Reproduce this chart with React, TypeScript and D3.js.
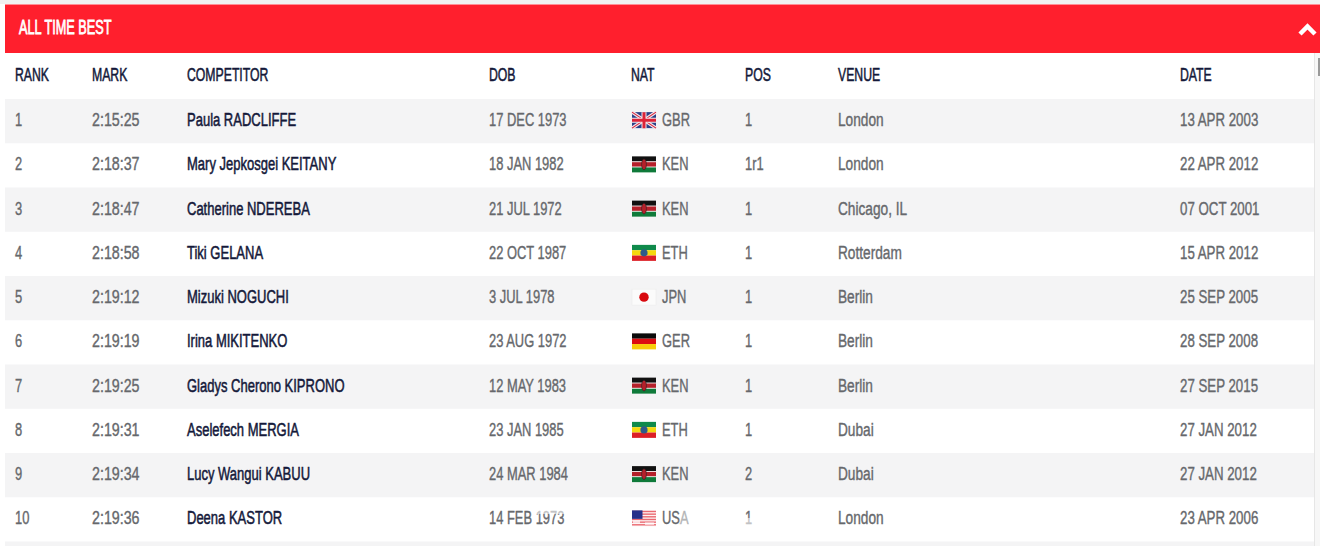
import React from 'react';
import * as d3 from 'd3';

const title = 'ALL TIME BEST';
const columns = ['RANK', 'MARK', 'COMPETITOR', 'DOB', 'NAT', 'POS', 'VENUE', 'DATE'];
const ranks = ['1', '2', '3', '4', '5', '6', '7', '8', '9', '10'];
const marks = ['2:15:25', '2:18:37', '2:18:47', '2:18:58', '2:19:12', '2:19:19', '2:19:25', '2:19:31', '2:19:34', '2:19:36'];
const competitors = [
  'Paula RADCLIFFE', 'Mary Jepkosgei KEITANY', 'Catherine NDEREBA', 'Tiki GELANA', 'Mizuki NOGUCHI',
  'Irina MIKITENKO', 'Gladys Cherono KIPRONO', 'Aselefech MERGIA', 'Lucy Wangui KABUU', 'Deena KASTOR',
];
const dobs = ['17 DEC 1973', '18 JAN 1982', '21 JUL 1972', '22 OCT 1987', '3 JUL 1978', '23 AUG 1972', '12 MAY 1983', '23 JAN 1985', '24 MAR 1984', '14 FEB 1973'];
const nats = ['GBR', 'KEN', 'KEN', 'ETH', 'JPN', 'GER', 'KEN', 'ETH', 'KEN', 'USA'];
const positions = ['1', '1r1', '1', '1', '1', '1', '1', '1', '2', '1'];
const venues = ['London', 'London', 'Chicago, IL', 'Rotterdam', 'Berlin', 'Berlin', 'Berlin', 'Dubai', 'Dubai', 'London'];
const dates = ['13 APR 2003', '22 APR 2012', '07 OCT 2001', '15 APR 2012', '25 SEP 2005', '28 SEP 2008', '27 SEP 2015', '27 JAN 2012', '27 JAN 2012', '23 APR 2006'];

const width = 1320;
const height = 546;
const left = 5;
const right = 1314;

const x = d3.scaleOrdinal<string, number>()
  .domain(columns)
  .range([15, 92, 187, 489, 631, 745, 838, 1180]);

const y = d3.scaleBand<string>()
  .domain(ranks)
  .range([99, 541.5]);

const FONT = '"Liberation Sans", Arial, sans-serif';
const DARK = '#14193a';
const GREY = '#66686c';

const Label = ({ px, py, fill, text, size = 19, sx = 0.68, bold = 0.4 }: any) => (
  <text
    transform={`translate(${px},${py}) scale(${sx},1)`}
    fontFamily={FONT}
    fontSize={size}
    fill={fill}
    stroke={fill}
    strokeWidth={bold}
  >
    {text}
  </text>
);

const Flag = ({ code, px, py }: { code: string; px: number; py: number }) => {
  const w = 24;
  const h = 16;
  const stripes = (cols: string[]) =>
    cols.map((c, i) => <rect key={i} y={(i * h) / cols.length} width={w} height={h / cols.length} fill={c} />);
  let body: React.ReactNode = null;
  if (code === 'GBR') {
    body = (
      <>
        <rect width={w} height={h} fill="#2b3f87" />
        <path d={`M0,0L${w},${h}M${w},0L0,${h}`} stroke="#f3e6ea" strokeWidth={3.4} />
        <path d={`M0,0L${w},${h}M${w},0L0,${h}`} stroke="#d8253d" strokeWidth={1.2} />
        <path d={`M${w / 2},0V${h}M0,${h / 2}H${w}`} stroke="#f3e6ea" strokeWidth={5} />
        <path d={`M${w / 2},0V${h}M0,${h / 2}H${w}`} stroke="#dc2238" strokeWidth={3} />
      </>
    );
  } else if (code === 'KEN') {
    body = (
      <>
        {stripes(['#111111', '#b5202a', '#0f7a3a'])}
        <rect y={5} width={w} height={0.8} fill="#fff" />
        <rect y={10.2} width={w} height={0.8} fill="#fff" />
        <ellipse cx={w / 2} cy={h / 2} rx={2.4} ry={5.4} fill="#b5202a" stroke="#222" strokeWidth={0.6} />
      </>
    );
  } else if (code === 'ETH') {
    body = (
      <>
        {stripes(['#0f8a4b', '#f5d90f', '#dc1f26'])}
        <circle cx={w / 2} cy={h / 2} r={3.6} fill="#2f5a8a" />
      </>
    );
  } else if (code === 'JPN') {
    body = (
      <>
        <rect width={w} height={h} fill="#fbfbfb" stroke="#ebebeb" strokeWidth={0.6} />
        <circle cx={w / 2} cy={h / 2} r={4.7} fill="#d8090f" />
      </>
    );
  } else if (code === 'GER') {
    body = stripes(['#0b0b0b', '#dc0d12', '#f8cd0a']);
  } else if (code === 'USA') {
    body = (
      <>
        <rect width={w} height={h} fill="#fdf3f3" />
        {[0, 1, 2, 3, 4, 5].map(i => (
          <rect key={i} y={(i * h) / 6 + 0.4} width={w} height={1.4} fill="#ea6a72" />
        ))}
        <rect width={10.5} height={8.5} fill="#27308a" />
        <rect x={1} y={10} width={7} height={3} fill="#ffffff" opacity={0.7} />
        <rect x={13} y={12} width={9} height={2.5} fill="#ffffff" opacity={0.7} />
      </>
    );
  }
  return <g transform={`translate(${px + 1},${py})`}>{body}</g>;
};

const App: React.FC = () => {
  const band = y.bandwidth();
  const base = (r: string) => y(r)! + band / 2 + 5;

  return (
    <svg
      width={width}
      height={height}
      viewBox={`0 0 ${width} ${height}`}
      style={{ position: 'absolute', left: 0, top: 0, background: '#ffffff' }}
    >
      <rect width={width} height={4} fill="#f1f1f1" />
      <rect x={left} y={4.5} width={width - left} height={48.5} fill="#ff1f2d" />
      <Label px={19} py={33.5} fill="#ffffff" text={title} size={20} sx={0.635} bold={0.8} />
      <path d="M1300,34L1307.5,26.5L1315,34" fill="none" stroke="#ffffff" strokeWidth={4.5} />

      <rect x={right} y={53} width={6} height={height - 53} fill="#f7f7f7" />
      <rect x={right} y={53} width={1} height={height - 53} fill="#e6e6e6" />
      <rect x={1318} y={58} width={2} height={18} fill="#9a9a9a" />

      {columns.map(c => (
        <Label key={c} px={x(c)} py={81} fill={DARK} text={c} sx={0.645} bold={0.55} />
      ))}

      {ranks.map((r, i) => (
        <g key={r}>
          {i % 2 === 0 && <rect x={left} y={y(r)} width={right - left} height={band} fill="#f4f4f5" />}
        </g>
      ))}
      <rect x={left} y={541.5} width={right - left} height={5} fill="#f4f4f5" />

      {ranks.map((r, i) => (
        <g key={r}>
          <Label px={x('RANK')} py={base(r)} fill={GREY} text={r} />
          <Label px={x('MARK')} py={base(r)} fill={GREY} text={marks[i]} sx={0.75} />
          <Label px={x('COMPETITOR')} py={base(r)} fill={DARK} text={competitors[i]} sx={0.685} bold={0.55} />
          <Label px={x('DOB')} py={base(r)} fill={GREY} text={dobs[i]} sx={0.68} />
          <Flag code={nats[i]} px={x('NAT')} py={y(r)! + band / 2 - 9} />
          <Label px={662} py={base(r)} fill={GREY} text={nats[i]} sx={0.68} />
          <Label px={x('POS')} py={base(r)} fill={GREY} text={positions[i]} />
          <Label px={x('VENUE')} py={base(r)} fill={GREY} text={venues[i]} sx={0.72} />
          <Label px={x('DATE')} py={base(r)} fill={GREY} text={dates[i]} sx={0.7} />
        </g>
      ))}

      {/* the reference has these bits of the last row washed out */}
      <rect x={535} y={509} width={32} height={5} fill="#ffffff" opacity={0.6} />
      <rect x={680} y={510} width={10} height={15} fill="#ffffff" opacity={0.5} />
      <rect x={745} y={518} width={8} height={8} fill="#ffffff" opacity={0.6} />
    </svg>
  );
};

export default App;
